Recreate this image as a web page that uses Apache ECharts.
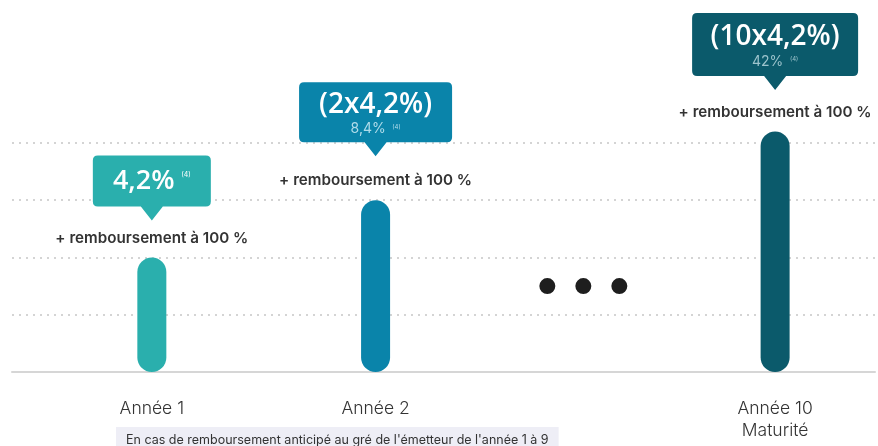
<!DOCTYPE html>
<html>
<head>
<meta charset="utf-8">
<script src="https://cdn.jsdelivr.net/npm/echarts@6/dist/echarts.min.js"></script>
<style>
html,body{margin:0;padding:0;background:#fff;}
#main{width:878px;height:446px;}
</style>
</head>
<body>
<div id="main"></div>
<script>
// ---- data ----
var categories = ['Année 1', 'Année 2', '…', 'Année 10\nMaturité'];
var barValues = [2, 3, null, 4.2];
var ellipsisLevel = 1.5;
var calloutMain = ['4,2%', '(2x4,2%)', null, '(10x4,2%)'];
var calloutSub = [null, '8,4%', null, '42%'];
var noteRef = '(4)';
var barLabel = '+ remboursement à 100 %';
var footnote = "En cas de remboursement anticipé au gré de l'émetteur de l'année 1 à 9";

// ---- layout (not data) ----
var SLOT_COUNT = 108;
var slots = [17, 45, 71, 95];
var colors = ['#2aafad', '#0a84aa', null, '#0b5a6b'];
var subColors = [null, '#b0dcea', null, '#9cc3cc'];
var boxSizes = [[118, 51], [153, 60], null, [166, 63]];
var boxOffsets = [-69.5, -81, null, -80];
var PTR = 14;
var FONT = 'Inter, "Open Sans", sans-serif';
var BIGFONT = '"Open Sans", Inter, sans-serif';

function calloutPath(w, h) {
  var r = 5, hw = 11, c = w / 2;
  return 'path://M' + r + ',0 H' + (w - r) + ' Q' + w + ',0 ' + w + ',' + r +
    ' V' + (h - r) + ' Q' + w + ',' + h + ' ' + (w - r) + ',' + h +
    ' H' + (c + hw) + ' L' + c + ',' + (h + PTR) + ' L' + (c - hw) + ',' + h +
    ' H' + r + ' Q0,' + h + ' 0,' + (h - r) + ' V' + r + ' Q0,0 ' + r + ',0 Z';
}
var dotsPath = 'path://M0,8 A8,8 0 1,0 16,8 A8,8 0 1,0 0,8 Z M36,8 A8,8 0 1,0 52,8 A8,8 0 1,0 36,8 Z M72,8 A8,8 0 1,0 88,8 A8,8 0 1,0 72,8 Z';

var axisData = [];
for (var i = 0; i < SLOT_COUNT; i++) axisData.push('');
categories.forEach(function (c, k) { axisData[slots[k]] = c; });

var barData = [];
for (var i = 0; i < SLOT_COUNT; i++) barData.push('-');
barValues.forEach(function (v, k) {
  if (v != null) barData[slots[k]] = { value: v, itemStyle: { color: colors[k] } };
});

var scatterData = [];
for (var i = 0; i < SLOT_COUNT; i++) scatterData.push('-');
scatterData[slots[2]] = ellipsisLevel;

var markData = [];
barValues.forEach(function (v, k) {
  if (v == null) return;
  var w = boxSizes[k][0], h = boxSizes[k][1];
  var txt;
  if (calloutSub[k]) {
    txt = '{big|' + calloutMain[k] + '}\n{small|' + calloutSub[k] + '}  {sup|' + noteRef + '}';
  } else {
    txt = '{big1|' + calloutMain[k] + '}  {sup1|' + noteRef + '}';
  }
  markData.push({
    coord: [slots[k], v],
    symbol: calloutPath(w, h),
    symbolSize: [w, h + PTR],
    symbolOffset: [0, boxOffsets[k]],
    itemStyle: { color: colors[k] },
    label: {
      show: true, position: 'inside', offset: [0, -PTR / 2 + (calloutSub[k] ? 2 : 0)],
      formatter: txt,
      rich: {
        big1: { fontSize: 27, fontWeight: 600, color: '#fff', fontFamily: BIGFONT, lineHeight: 32 },
        sup1: { fontSize: 7, color: '#fff', fontFamily: FONT, padding: [0, 0, 12, 0] },
        big: { fontSize: 28, fontWeight: 600, color: '#fff', fontFamily: BIGFONT, lineHeight: 30 },
        small: { fontSize: 14, color: subColors[k], fontFamily: FONT, lineHeight: 19 },
        sup: { fontSize: 6, color: subColors[k], fontFamily: FONT, padding: [0, 0, 5, 0] }
      }
    }
  });
});

var chart = echarts.init(document.getElementById('main'));
chart.setOption({
  animation: false,
  backgroundColor: '#fff',
  title: {
    text: footnote,
    left: 116, top: 427,
    padding: [7, 10, 8, 10],
    backgroundColor: '#eeeef6',
    textStyle: { fontSize: 12.5, fontWeight: 'normal', color: '#333', fontFamily: FONT }
  },
  grid: { left: 12, right: 3, top: 131.5, bottom: 74 },
  xAxis: {
    type: 'category',
    data: axisData,
    boundaryGap: true,
    axisLine: { show: true, lineStyle: { color: '#d6d6d6', width: 2 } },
    axisTick: { show: false },
    axisLabel: {
      interval: 0, margin: 26, fontSize: 17.5, fontWeight: 300, color: '#333', fontFamily: FONT,
      lineHeight: 22,
      formatter: function (v) { return v === categories[2] ? '' : v; }
    },
    splitLine: { show: false }
  },
  yAxis: {
    type: 'value', min: 0, max: 4.2, interval: 1,
    axisLine: { show: false }, axisTick: { show: false }, axisLabel: { show: false },
    splitLine: { show: true, showMaxLine: false, lineStyle: { color: '#d4d4d4', width: 2, type: [2, 5] } }
  },
  series: [
    {
      type: 'bar',
      data: barData,
      barWidth: 29,
      clip: false,
      silent: true,
      itemStyle: { borderRadius: 14.5 },
      label: {
        show: true, position: 'top', distance: 12,
        formatter: barLabel,
        fontSize: 15.2, fontWeight: 600, color: '#333', fontFamily: FONT
      },
      markPoint: { silent: true, data: markData }
    },
    {
      type: 'scatter',
      data: scatterData,
      symbol: dotsPath,
      symbolSize: [88, 16],
      itemStyle: { color: '#1e1e1e', opacity: 1 },
      silent: true
    }
  ]
});
</script>
</body>
</html>
